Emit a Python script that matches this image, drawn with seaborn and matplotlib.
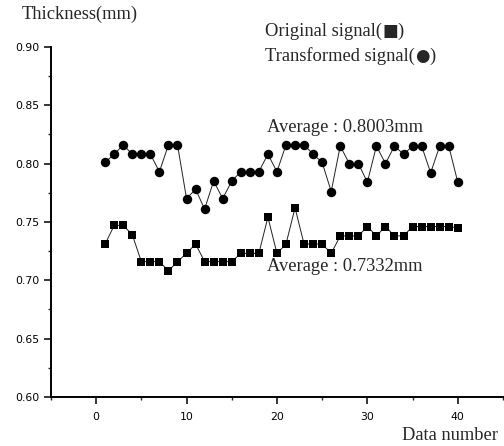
import numpy as np
import pandas as pd
import matplotlib
matplotlib.use("Agg")
import matplotlib.pyplot as plt
from matplotlib.ticker import MultipleLocator
from matplotlib.transforms import offset_copy
import seaborn as sns

# Thickness measurements for 40 samples
data_number = list(range(1, 41))
original_signal = [
    0.731, 0.747, 0.747, 0.739, 0.716, 0.716, 0.716, 0.708, 0.716, 0.723,
    0.731, 0.716, 0.716, 0.716, 0.716, 0.723, 0.723, 0.723, 0.754, 0.723,
    0.731, 0.762, 0.731, 0.731, 0.731, 0.723, 0.738, 0.738, 0.738, 0.746,
    0.738, 0.746, 0.738, 0.738, 0.746, 0.746, 0.746, 0.746, 0.746, 0.745,
]
transformed_signal = [
    0.801, 0.808, 0.816, 0.808, 0.808, 0.808, 0.793, 0.816, 0.816, 0.770,
    0.778, 0.761, 0.785, 0.770, 0.785, 0.793, 0.793, 0.793, 0.808, 0.793,
    0.816, 0.816, 0.816, 0.808, 0.801, 0.776, 0.815, 0.800, 0.800, 0.784,
    0.815, 0.800, 0.815, 0.808, 0.815, 0.815, 0.792, 0.815, 0.815, 0.784,
]
avg_original = 0.7332
avg_transformed = 0.8003

y_ticks = [0.60, 0.65, 0.70, 0.75, 0.80, 0.85, 0.90]
x_ticks = [0, 10, 20, 30, 40]

df = pd.DataFrame({
    "n": data_number,
    "original": original_signal,
    "transformed": transformed_signal,
})

sns.set_style("ticks")
plt.rcParams["font.family"] = ["DejaVu Sans"]
serif = ["Liberation Serif", "DejaVu Sans"]
FS = 13.3

fig = plt.figure(figsize=(5.04, 4.46), dpi=100)
ax = fig.add_axes([0.101, 0.110, 0.897, 0.785])

sns.lineplot(data=df, x="n", y="transformed", ax=ax, color="#222222",
             linewidth=0.7, marker="o", markersize=6.8, markeredgewidth=0,
             markerfacecolor="black")
sns.lineplot(data=df, x="n", y="original", ax=ax, color="#222222",
             linewidth=0.7, marker="s", markersize=5.3, markeredgewidth=0,
             markerfacecolor="black")

ax.set_xlim(-5, 45)
ax.set_ylim(0.60, 0.90)
ax.set_xticks(x_ticks)
ax.set_yticks(y_ticks)
ax.set_yticklabels([f"{v:.2f}" for v in y_ticks])
ax.xaxis.set_minor_locator(MultipleLocator(5))
ax.yaxis.set_minor_locator(MultipleLocator(0.025))
ax.tick_params(axis="both", which="major", direction="out", length=5,
               width=1.1, labelsize=7.8, colors="black")
ax.tick_params(axis="both", which="minor", direction="out", length=2.5,
               width=1.0)
ax.tick_params(axis="x", which="major", pad=6)
ax.tick_params(axis="y", which="major", pad=3)
ax.set_xlabel("")
ax.set_ylabel("")
sns.despine(ax=ax)
for side in ("left", "bottom"):
    ax.spines[side].set_linewidth(1.4)
    ax.spines[side].set_color("black")

# Average annotations
ax.text(18.9, 0.8309, f"Average : {avg_transformed:.4f}mm", family=serif,
        fontsize=FS, va="center", ha="left")
ax.text(18.9, 0.7117, f"Average : {avg_original:.4f}mm", family=serif,
        fontsize=FS, va="center", ha="left")

# Axis titles
W, H = 504, 446
fig.text(22 / W, 1 - 14 / H, "Thickness(mm)", family=serif, fontsize=FS,
         va="center", ha="left")
fig.text(498 / W, 1 - 436 / H, "Data number", family=serif, fontsize=FS,
         va="center", ha="right")

# Series key: text with an enlarged symbol between the parentheses
renderer = fig.canvas.get_renderer()


def key_line(x_px, y_px, label, symbol, symbol_size):
    parts = [(label + "(", serif, FS), (symbol, ["DejaVu Sans"], symbol_size),
             (")", serif, FS)]
    x = x_px
    for txt, fam, size in parts:
        t = fig.text(x / W, 1 - y_px / H, txt, family=fam, fontsize=size,
                     va="center", ha="left")
        bb = t.get_window_extent(renderer)
        x += bb.width


key_line(265, 31, "Original signal", "\u25a0", 12)
key_line(265, 56, "Transformed signal", "\u25cf", 12)

fig.savefig("out.png", dpi=100)
